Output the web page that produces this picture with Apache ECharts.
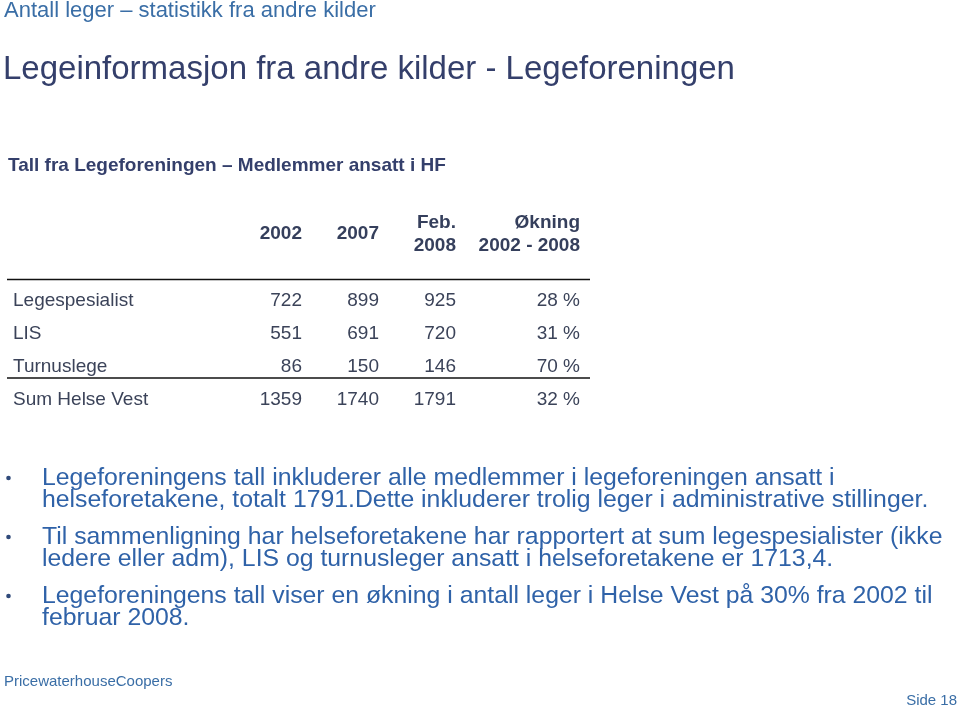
<!DOCTYPE html>
<html>
<head>
<meta charset="utf-8">
<script src="https://cdn.jsdelivr.net/npm/echarts@6/dist/echarts.min.js"></script>
<style>html,body{margin:0;padding:0;background:#fff}#c{width:960px;height:711px}</style>
</head>
<body>
<div id="c"></div>
<script>
// ---- data ----
var rows = ['Legespesialist', 'LIS', 'Turnuslege', 'Sum Helse Vest'];
var columns = ['2002', '2007', 'Feb. 2008', 'Økning 2002 - 2008'];
var headerLabels = ['2002', '2007', 'Feb.\n2008', 'Økning\n2002 - 2008'];
var v2002 = [722, 551, 86, 1359];
var v2007 = [899, 691, 150, 1740];
var vFeb2008 = [925, 720, 146, 1791];
var okningPct = [28, 31, 70, 32];

var topLine = 'Antall leger – statistikk fra andre kilder';
var pageTitle = 'Legeinformasjon fra andre kilder - Legeforeningen';
var tableTitle = 'Tall fra Legeforeningen – Medlemmer ansatt i HF';
var bullets = [
  'Legeforeningens tall inkluderer alle medlemmer i legeforeningen ansatt i\nhelseforetakene, totalt 1791.Dette inkluderer trolig leger i administrative stillinger.',
  'Til sammenligning har helseforetakene har rapportert at sum legespesialister (ikke\nledere eller adm), LIS og turnusleger ansatt i helseforetakene er 1713,4.',
  'Legeforeningens tall viser en økning i antall leger i Helse Vest på 30% fra 2002 til\nfebruar 2008.'
];
var footerLeft = 'PricewaterhouseCoopers';
var footerRight = 'Side 18';

// ---- styling ----
var FONT = '"Liberation Sans", Arial, sans-serif';
var tableColor = '#3b4359';
var headColor = '#353f5c';
var blue = '#3a6ea6';
var navy = '#343f6b';
var bulletBlue = '#2f62a8';
var colOffset = [38.5, 38.5, 38.5, 85.5];
var valueSets = [v2002, v2007, vFeb2008, okningPct];
var valueFmt = [
  function (v) { return String(v); },
  function (v) { return String(v); },
  function (v) { return String(v); },
  function (v) { return v + ' %'; }
];

var series = [];
valueSets.forEach(function (vals, k) {
  series.push({
    type: 'scatter',
    xAxisIndex: 0, yAxisIndex: 0,
    symbolSize: 1,
    itemStyle: { color: 'rgba(0,0,0,0)', opacity: 1 },
    silent: true,
    data: rows.map(function (r, i) { return { value: [columns[k], r], raw: vals[i] }; }),
    label: {
      show: true, position: 'inside', align: 'right', verticalAlign: 'middle',
      offset: [colOffset[k], 0],
      fontFamily: FONT, fontSize: 19, color: tableColor,
      formatter: (function (kk) { return function (p) { return valueFmt[kk](p.data.raw); }; })(k)
    }
  });
});
series.push({
  type: 'scatter',
  xAxisIndex: 1, yAxisIndex: 1,
  symbolSize: 1,
  itemStyle: { color: 'rgba(0,0,0,0)', opacity: 1 },
  silent: true,
  data: columns.map(function (c, k) { return { value: [c, 'head'], txt: headerLabels[k], k: k }; }),
  label: {
    show: true, position: 'inside', align: 'right', verticalAlign: 'middle',
    fontFamily: FONT, fontSize: 19, fontWeight: 'bold', color: headColor, lineHeight: 23,
    formatter: function (p) { return p.data.txt; }
  },
  labelLayout: function (params) {
    return { dx: colOffset[params.dataIndex] };
  }
});

var graphics = [
  { type: 'text', x: 4, y: 11, style: { text: topLine, font: '22px ' + FONT, fill: blue, verticalAlign: 'middle' } },
  { type: 'text', x: 3, y: 70, style: { text: pageTitle, font: '33px ' + FONT, fill: navy, verticalAlign: 'middle' } },
  { type: 'text', x: 8, y: 166, style: { text: tableTitle, font: 'bold 19px ' + FONT, fill: navy, verticalAlign: 'middle' } },
  { type: 'line', shape: { x1: 7, y1: 279.5, x2: 590, y2: 279.5 }, style: { stroke: '#111', lineWidth: 1.5 } },
  { type: 'line', shape: { x1: 7, y1: 378, x2: 590, y2: 378 }, style: { stroke: '#111', lineWidth: 1.5 } },
  { type: 'text', x: 4, y: 682, style: { text: footerLeft, font: '15px ' + FONT, fill: blue, verticalAlign: 'middle' } },
  { type: 'text', x: 957, y: 701, style: { text: footerRight, font: '15px ' + FONT, fill: blue, align: 'right', verticalAlign: 'middle' } }
];
var bulletTop = [477, 536, 595];
bullets.forEach(function (b, i) {
  graphics.push({ type: 'text', x: 42, y: bulletTop[i] - 10, style: { text: b, font: '24.8px ' + FONT, fill: bulletBlue, lineHeight: 22, verticalAlign: 'top' } });
  graphics.push({ type: 'circle', shape: { cx: 8.5, cy: bulletTop[i] + 1, r: 2.3 }, style: { fill: '#2f4a7a' } });
});

var chart = echarts.init(document.getElementById('c'), null, { renderer: 'canvas' });
chart.setOption({
  animation: false,
  backgroundColor: '#ffffff',
  grid: [
    { left: 225, width: 308, top: 284.5, height: 132 },
    { left: 225, width: 308, top: 220, height: 28 }
  ],
  xAxis: [
    { gridIndex: 0, type: 'category', data: columns, show: false },
    { gridIndex: 1, type: 'category', data: columns, show: false }
  ],
  yAxis: [
    {
      gridIndex: 0, type: 'category', data: rows, inverse: true,
      axisLine: { show: false }, axisTick: { show: false }, splitLine: { show: false },
      axisLabel: { align: 'left', margin: 212, fontFamily: FONT, fontSize: 19, color: tableColor }
    },
    { gridIndex: 1, type: 'category', data: ['head'], show: false }
  ],
  graphic: graphics,
  series: series
});
</script>
</body>
</html>
